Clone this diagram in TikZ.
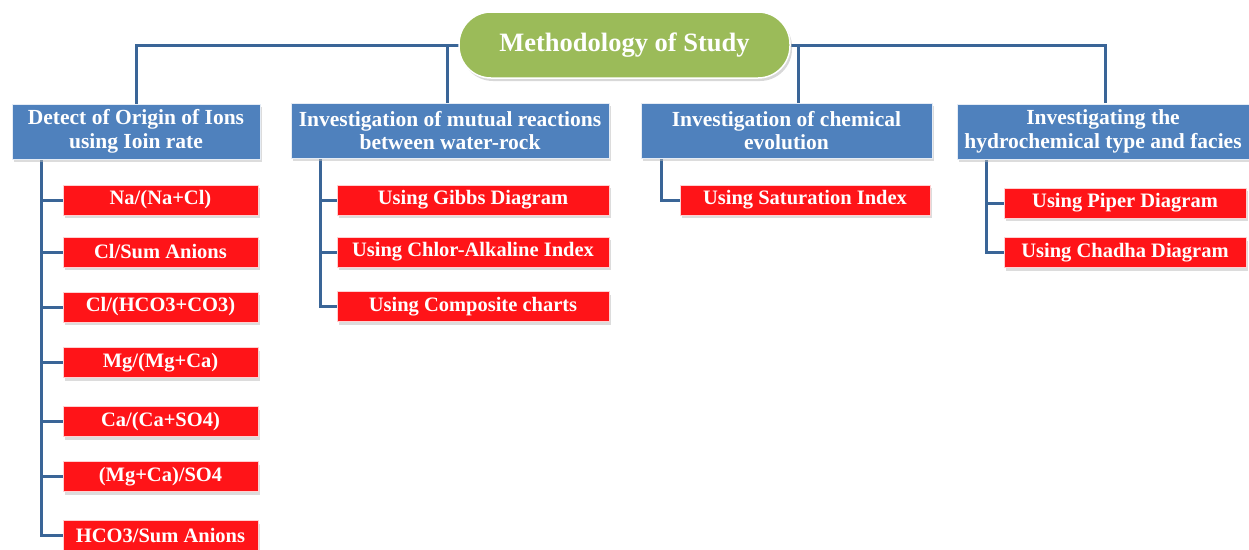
\documentclass[tikz,border=0pt]{standalone}
\usepackage{fontspec}
\setmainfont{Liberation Serif}
\usetikzlibrary{shadows,backgrounds,calc}
\definecolor{topgreen}{HTML}{9BBB59}
\definecolor{boxblue}{HTML}{4F81BD}
\definecolor{linkblue}{HTML}{3A6597}
\definecolor{boxred}{HTML}{FF1418}
\tikzset{
  topbox/.style={rectangle, rounded corners=32pt, fill=topgreen, draw=white, line width=1.5pt,
    minimum width=331pt, minimum height=66pt, text=white, font=\bfseries\fontsize{26.5}{28}\selectfont,
    drop shadow={shadow xshift=2pt, shadow yshift=-3pt, fill=gray!60}},
  catbox/.style={rectangle, fill=boxblue, draw=white!85!boxblue, line width=1pt,
    minimum height=55pt, text=white, align=center, font=\bfseries\fontsize{21.5}{23.5}\selectfont,
    drop shadow={shadow xshift=1.5pt, shadow yshift=-3pt, fill=gray!55}, inner sep=0pt},
  leafbox/.style={rectangle, fill=boxred, draw=white!80!boxred, line width=1pt,
    minimum height=30pt, text=white, font=\bfseries\fontsize{20.5}{22}\selectfont,
    drop shadow={shadow xshift=1.5pt, shadow yshift=-3pt, fill=gray!55}, inner sep=0pt},
  link/.style={draw=linkblue, line width=3pt}
}
\begin{document}
\begin{tikzpicture}[x=1pt,y=-1pt]
\useasboundingbox (0,0) rectangle (1249,549);
% top
\node[topbox] (top) at (624.5,45) {Methodology of Study};
% categories
\node[catbox, minimum width=248pt] (c1) at (136,131.5) {Detect of Origin of Ions\\using Ioin rate};
\node[catbox, minimum width=318pt] (c2) at (450,130.5) {Investigation of mutual reactions\\between water-rock};
\node[catbox, minimum width=291pt] (c3) at (786.5,130.5) {Investigation of chemical\\evolution};
\node[catbox, minimum width=292pt] (c4) at (1103,131.5) {Investigating the\\hydrochemical type and facies};
% leaves group 1
\node[leafbox, minimum width=195pt] (a1) at (160.5,200) {Na/(Na+Cl)};
\node[leafbox, minimum width=195pt] (a2) at (160.5,252) {Cl/Sum Anions};
\node[leafbox, minimum width=195pt] (a3) at (160.5,307) {Cl/(HCO3+CO3)};
\node[leafbox, minimum width=195pt] (a4) at (160.5,362.5) {Mg/(Mg+Ca)};
\node[leafbox, minimum width=195pt] (a5) at (160.5,421.5) {Ca/(Ca+SO4)};
\node[leafbox, minimum width=195pt] (a6) at (160.5,476.5) {(Mg+Ca)/SO4};
\node[leafbox, minimum width=195pt] (a7) at (160.5,535.5) {HCO3/Sum Anions};
% leaves group 2
\node[leafbox, minimum width=272pt] (b1) at (473,200) {Using Gibbs Diagram};
\node[leafbox, minimum width=272pt] (b2) at (473,252) {Using Chlor-Alkaline Index};
\node[leafbox, minimum width=272pt] (b3) at (473,306.5) {Using Composite charts};
% group 3
\node[leafbox, minimum width=250pt] (d1) at (805,200) {Using Saturation Index};
% group 4
\node[leafbox, minimum width=242pt] (e1) at (1125,203) {Using Piper Diagram};
\node[leafbox, minimum width=242pt] (e2) at (1125,252.5) {Using Chadha Diagram};
% trunk coordinates
\coordinate (t1) at (41,159);
\coordinate (t2) at (320,158);
\coordinate (t3) at (661,158);
\coordinate (t4) at (986,160);
\coordinate (k2) at (447,103);
\coordinate (k3) at (798,103);
\coordinate (k4) at (1105,103);
\begin{pgfonlayer}{background}
\draw[link] (top.center) -| (c1.north);
\draw[link] (top.center) -| (k2);
\draw[link] (top.center) -| (k3);
\draw[link] (top.center) -| (k4);
\draw[link] (t1) |- (a7.west);
\foreach \n in {a1,a2,a3,a4,a5,a6} \draw[link] (t1) |- (\n.west);
\foreach \n in {b1,b2,b3} \draw[link] (t2) |- (\n.west);
\draw[link] (t3) |- (d1.west);
\foreach \n in {e1,e2} \draw[link] (t4) |- (\n.west);
\end{pgfonlayer}
\end{tikzpicture}
\end{document}
